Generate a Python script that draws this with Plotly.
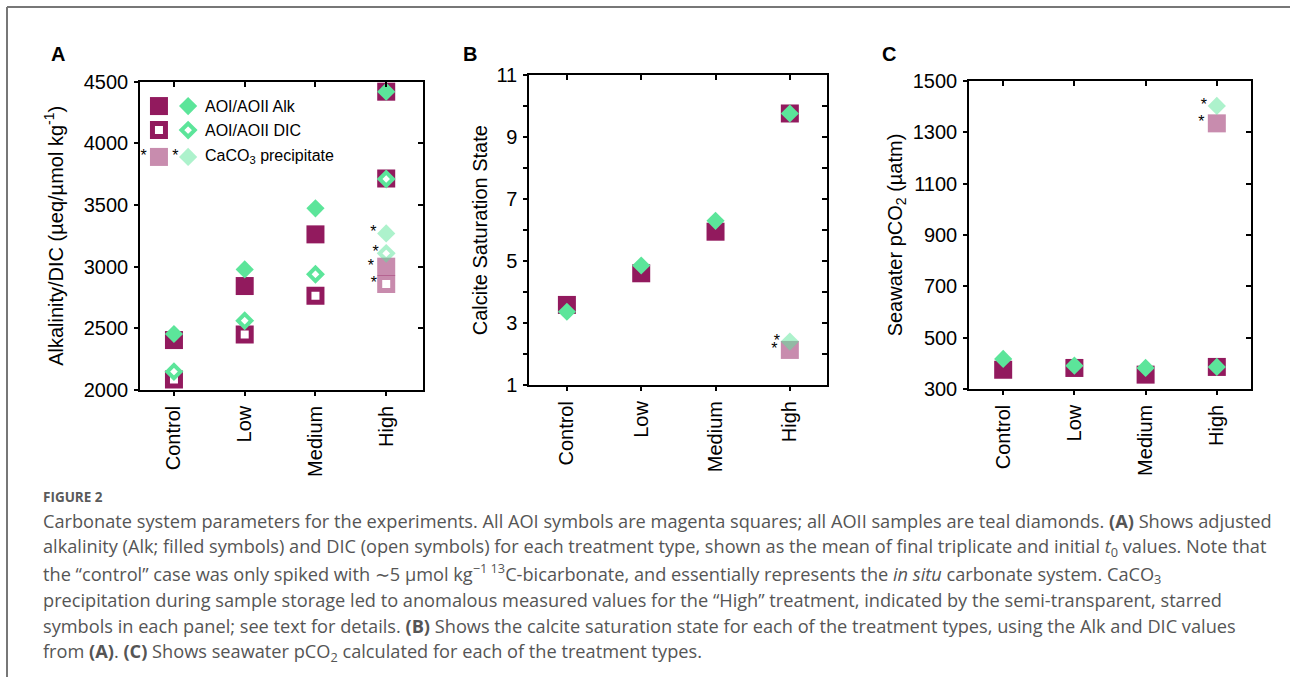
import plotly.graph_objects as go

# ---------------- data ----------------
categories = ["Control", "Low", "Medium", "High"]

# Panel A: alkalinity / DIC (µeq/µmol kg-1)
aoi_alk = [2405, 2843, 3262, 4419]
aoii_alk = [2454, 2978, 3473, 4419]
aoi_dic = [2086, 2451, 2765, 3716]
aoii_dic = [2149, 2562, 2938, 3711]
precip_cat = ["High"]
aoi_alk_precip = [3000]
aoii_alk_precip = [3270]
aoi_dic_precip = [2859]
aoii_dic_precip = [3108]

# Panel B: calcite saturation state
omega_aoi = [3.59, 4.61, 5.95, 9.76]
omega_aoii = [3.37, 4.86, 6.30, 9.76]
omega_aoi_precip = [2.14]
omega_aoii_precip = [2.41]

# Panel C: seawater pCO2 (µatm)
pco2_aoi = [375, 382, 356, 386]
pco2_aoii = [417, 391, 382, 386]
pco2_aoi_precip = [1335]
pco2_aoii_precip = [1403]

ticks_a = [2000, 2500, 3000, 3500, 4000, 4500]
ticks_b = list(range(1, 12))
ticklabels_b = [str(v) if v % 2 == 1 else "" for v in ticks_b]
ticks_c = [300, 500, 700, 900, 1100, 1300, 1500]

legend_labels = ["AOI/AOII Alk", "AOI/AOII DIC", "CaCO<sub>3</sub> precipitate"]

caption_title = "<b>FIGURE 2</b>"
caption_lines = [
    "Carbonate system parameters for the experiments. All AOI symbols are magenta squares; all AOII samples are teal diamonds. <b>(A)</b> Shows adjusted",
    "alkalinity (Alk; filled symbols) and DIC (open symbols) for each treatment type, shown as the mean of final triplicate and initial <i>t</i><sub>0</sub> values. Note that",
    "the \u201ccontrol\u201d case was only spiked with \u223c5 \u00b5mol kg<sup>\u22121 13</sup>C-bicarbonate, and essentially represents the <i>in situ</i> carbonate system. CaCO<sub>3</sub>",
    "precipitation during sample storage led to anomalous measured values for the \u201cHigh\u201d treatment, indicated by the semi-transparent, starred",
    "symbols in each panel; see text for details. <b>(B)</b> Shows the calcite saturation state for each of the treatment types, using the Alk and DIC values",
    "from <b>(A)</b>. <b>(C)</b> Shows seawater pCO<sub>2</sub> calculated for each of the treatment types.",
]

# ---------------- styles ----------------
W, H = 1290, 677
MAG = "#921a5e"
GRN = "#5ce59a"
FONT = "Liberation Sans, Arial, sans-serif"
CAP_FONT = "Open Sans, sans-serif"

SQ = dict(symbol="square", size=18, color=MAG, line=dict(width=0))
SQ_OPEN = dict(symbol="square", size=13, color="white", line=dict(width=5, color=MAG))
DM = dict(symbol="diamond", size=14, color=GRN, line=dict(width=0))
DM_OPEN = dict(symbol="diamond", size=10.2, color="white", line=dict(width=4, color=GRN))


def px_x(p):
    return p / W


def px_y(p):
    return 1 - p / H


# panel geometry (pixels)
panels = {
    "A": dict(x=(140, 423), y=(81.7, 390), xr=[-0.48, 3.52], yr=[2000, 4500], standoff=15),
    "B": dict(x=(529, 827), y=(75, 385.3), xr=[-0.51, 3.50], yr=[1, 11], standoff=3),
    "C": dict(x=(969, 1251), y=(81, 389), xr=[-0.48, 3.48], yr=[300, 1500], standoff=5),
}

fig = go.Figure()


def pts(xs, ys, marker, ax, text=None, opacity=1.0):
    xa, ya = ax
    fig.add_trace(go.Scatter(
        x=xs, y=ys, xaxis=xa, yaxis=ya,
        mode="markers+text" if text else "markers",
        marker=dict(**marker, opacity=opacity),
        text=text, textposition="middle left",
        textfont=dict(size=16, color="black", family=FONT),
        showlegend=False, hoverinfo="skip", cliponaxis=False,
    ))


# Panel A
axA = ("x", "y")
pts(categories, aoi_alk, SQ, axA)
pts(categories, aoi_dic, SQ_OPEN, axA)
pts(categories, aoii_alk, DM, axA)
pts(categories, aoii_dic, DM_OPEN, axA)
pts(precip_cat, aoi_dic_precip, SQ_OPEN, axA, ["*"], 0.5)
pts(precip_cat, aoi_alk_precip, SQ, axA, ["*"], 0.5)
pts(precip_cat, aoii_dic_precip, DM_OPEN, axA, ["*"], 0.5)
pts(precip_cat, aoii_alk_precip, DM, axA, ["*"], 0.5)

# Panel B
axB = ("x2", "y2")
pts(categories, omega_aoi, SQ, axB)
pts(categories, omega_aoii, DM, axB)
pts(precip_cat, omega_aoi_precip, SQ, axB, ["*"], 0.5)
pts(precip_cat, omega_aoii_precip, DM, axB, ["*"], 0.5)

# Panel C
axC = ("x3", "y3")
pts(categories, pco2_aoi, SQ, axC)
pts(categories, pco2_aoii, DM, axC)
pts(precip_cat, pco2_aoi_precip, SQ, axC, ["*"], 0.5)
pts(precip_cat, pco2_aoii_precip, DM, axC, ["*"], 0.5)

# Legend (drawn in panel-A-relative unit axes)
leg_rows = [0.921, 0.843, 0.756]
leg_sq_x, leg_dm_x, leg_txt_x = 0.067, 0.170, 0.223
leg_sq = [SQ, SQ_OPEN, SQ]
leg_dm = [DM, DM_OPEN, DM]
leg_op = [1.0, 1.0, 0.5]
leg_star = [None, None, ["*"]]
axL = ("x7", "y7")
for i, yv in enumerate(leg_rows):
    pts([leg_sq_x], [yv], leg_sq[i], axL, leg_star[i], leg_op[i])
    pts([leg_dm_x], [yv], leg_dm[i], axL, leg_star[i], leg_op[i])
    fig.add_annotation(x=leg_txt_x, y=yv, xref="x7", yref="y7", text=legend_labels[i],
                       showarrow=False, xanchor="left", yanchor="middle",
                       font=dict(size=16, color="black", family=FONT))

# invisible traces to activate mirrored (inside) tick axes
for xa, ya in [("x4", "y"), ("x5", "y2"), ("x6", "y3"), ("x", "y4"), ("x2", "y5"), ("x3", "y6")]:
    fig.add_trace(go.Scatter(x=[None], y=[None], xaxis=xa, yaxis=ya, mode="markers",
                             showlegend=False, hoverinfo="skip"))

layout = {}
tickfont = dict(size=20, color="black", family=FONT)
axis_titles = {
    "A": "Alkalinity/DIC (\u00b5eq/\u00b5mol kg<sup>-1</sup>)",
    "B": "Calcite Saturation State",
    "C": "Seawater pCO<sub>2</sub> (\u00b5atm)",
}
ytick_vals = {"A": (ticks_a, [str(v) for v in ticks_a]),
              "B": (ticks_b, ticklabels_b),
              "C": (ticks_c, [str(v) for v in ticks_c])}

for i, key in enumerate(["A", "B", "C"]):
    p = panels[key]
    n = "" if i == 0 else str(i + 1)
    xd = [px_x(p["x"][0]), px_x(p["x"][1])]
    yd = [px_y(p["y"][1]), px_y(p["y"][0])]
    tv, tt = ytick_vals[key]
    layout["xaxis" + n] = dict(
        domain=xd, anchor="y" + n, type="category", categoryorder="array",
        categoryarray=categories, range=p["xr"], showgrid=False, zeroline=False,
        showline=True, linecolor="black", linewidth=1.5, mirror=True,
        ticks="outside", ticklen=4, tickwidth=1.5, tickcolor="black",
        tickangle=-90, tickfont=tickfont, ticklabelstandoff=2, automargin=False,
    )
    layout["yaxis" + n] = dict(
        domain=yd, anchor="x" + n, range=p["yr"], showgrid=False, zeroline=False,
        showline=True, linecolor="black", linewidth=1.5, mirror=True,
        ticks="outside", ticklen=4, tickwidth=1.5, tickcolor="black",
        tickmode="array", tickvals=tv, ticktext=tt, tickfont=tickfont,
        ticklabelstandoff=2, automargin=False,
        title=dict(text=axis_titles[key], font=dict(size=20, color="black", family=FONT),
                   standoff=p["standoff"]),
    )
    # mirrored inside ticks on top and right
    layout["xaxis" + str(4 + i)] = dict(
        overlaying="x" + n, anchor="y" + n, side="top", range=p["xr"],
        showgrid=False, zeroline=False, showline=False, showticklabels=False,
        ticks="inside", ticklen=5, tickwidth=1.5, tickcolor="black",
        tickmode="array", tickvals=list(range(len(categories))), automargin=False,
    )
    layout["yaxis" + str(4 + i)] = dict(
        overlaying="y" + n, anchor="x" + n, side="right", range=p["yr"],
        showgrid=False, zeroline=False, showline=False, showticklabels=False,
        ticks="inside", ticklen=5, tickwidth=1.5, tickcolor="black",
        tickmode="array", tickvals=tv, automargin=False,
    )

pA = panels["A"]
layout["xaxis7"] = dict(domain=[px_x(pA["x"][0]), px_x(pA["x"][1])], anchor="y7",
                        range=[0, 1], visible=False, fixedrange=True, automargin=False)
layout["yaxis7"] = dict(domain=[px_y(pA["y"][1]), px_y(pA["y"][0])], anchor="x7",
                        range=[0, 1], visible=False, fixedrange=True, automargin=False)

fig.update_layout(
    width=W, height=H, margin=dict(l=0, r=0, t=0, b=0, pad=0, autoexpand=False),
    paper_bgcolor="white", plot_bgcolor="rgba(0,0,0,0)",
    showlegend=False, **layout,
)

# panel letters
for letter, (lx, ly) in {"A": (58, 54), "B": (470, 54), "C": (889, 54)}.items():
    fig.add_annotation(x=px_x(lx), y=px_y(ly), xref="paper", yref="paper", text="<b>%s</b>" % letter,
                       showarrow=False, xanchor="center", yanchor="middle",
                       font=dict(size=20, color="black", family=FONT))

# caption
fig.add_annotation(x=px_x(41), y=px_y(497), xref="paper", yref="paper", text=caption_title,
                   showarrow=False, xanchor="left", yanchor="middle",
                   font=dict(size=13.5, color="#5a5a5a", family=CAP_FONT))
for k, line in enumerate(caption_lines):
    fig.add_annotation(x=px_x(41), y=px_y(521 + 26.3 * k), xref="paper", yref="paper", text=line,
                       showarrow=False, xanchor="left", yanchor="middle",
                       font=dict(size=18.2, color="#555555", family=CAP_FONT))

# page frame
fig.add_shape(type="line", xref="paper", yref="paper", x0=px_x(7), x1=1, y0=px_y(7), y1=px_y(7),
              line=dict(color="#777777", width=2))
fig.add_shape(type="line", xref="paper", yref="paper", x0=px_x(7), x1=px_x(7), y0=0, y1=px_y(7),
              line=dict(color="#777777", width=2))

fig.write_html("out.html", config={"displayModeBar": False},
               post_script="document.body.style.margin='0';")
